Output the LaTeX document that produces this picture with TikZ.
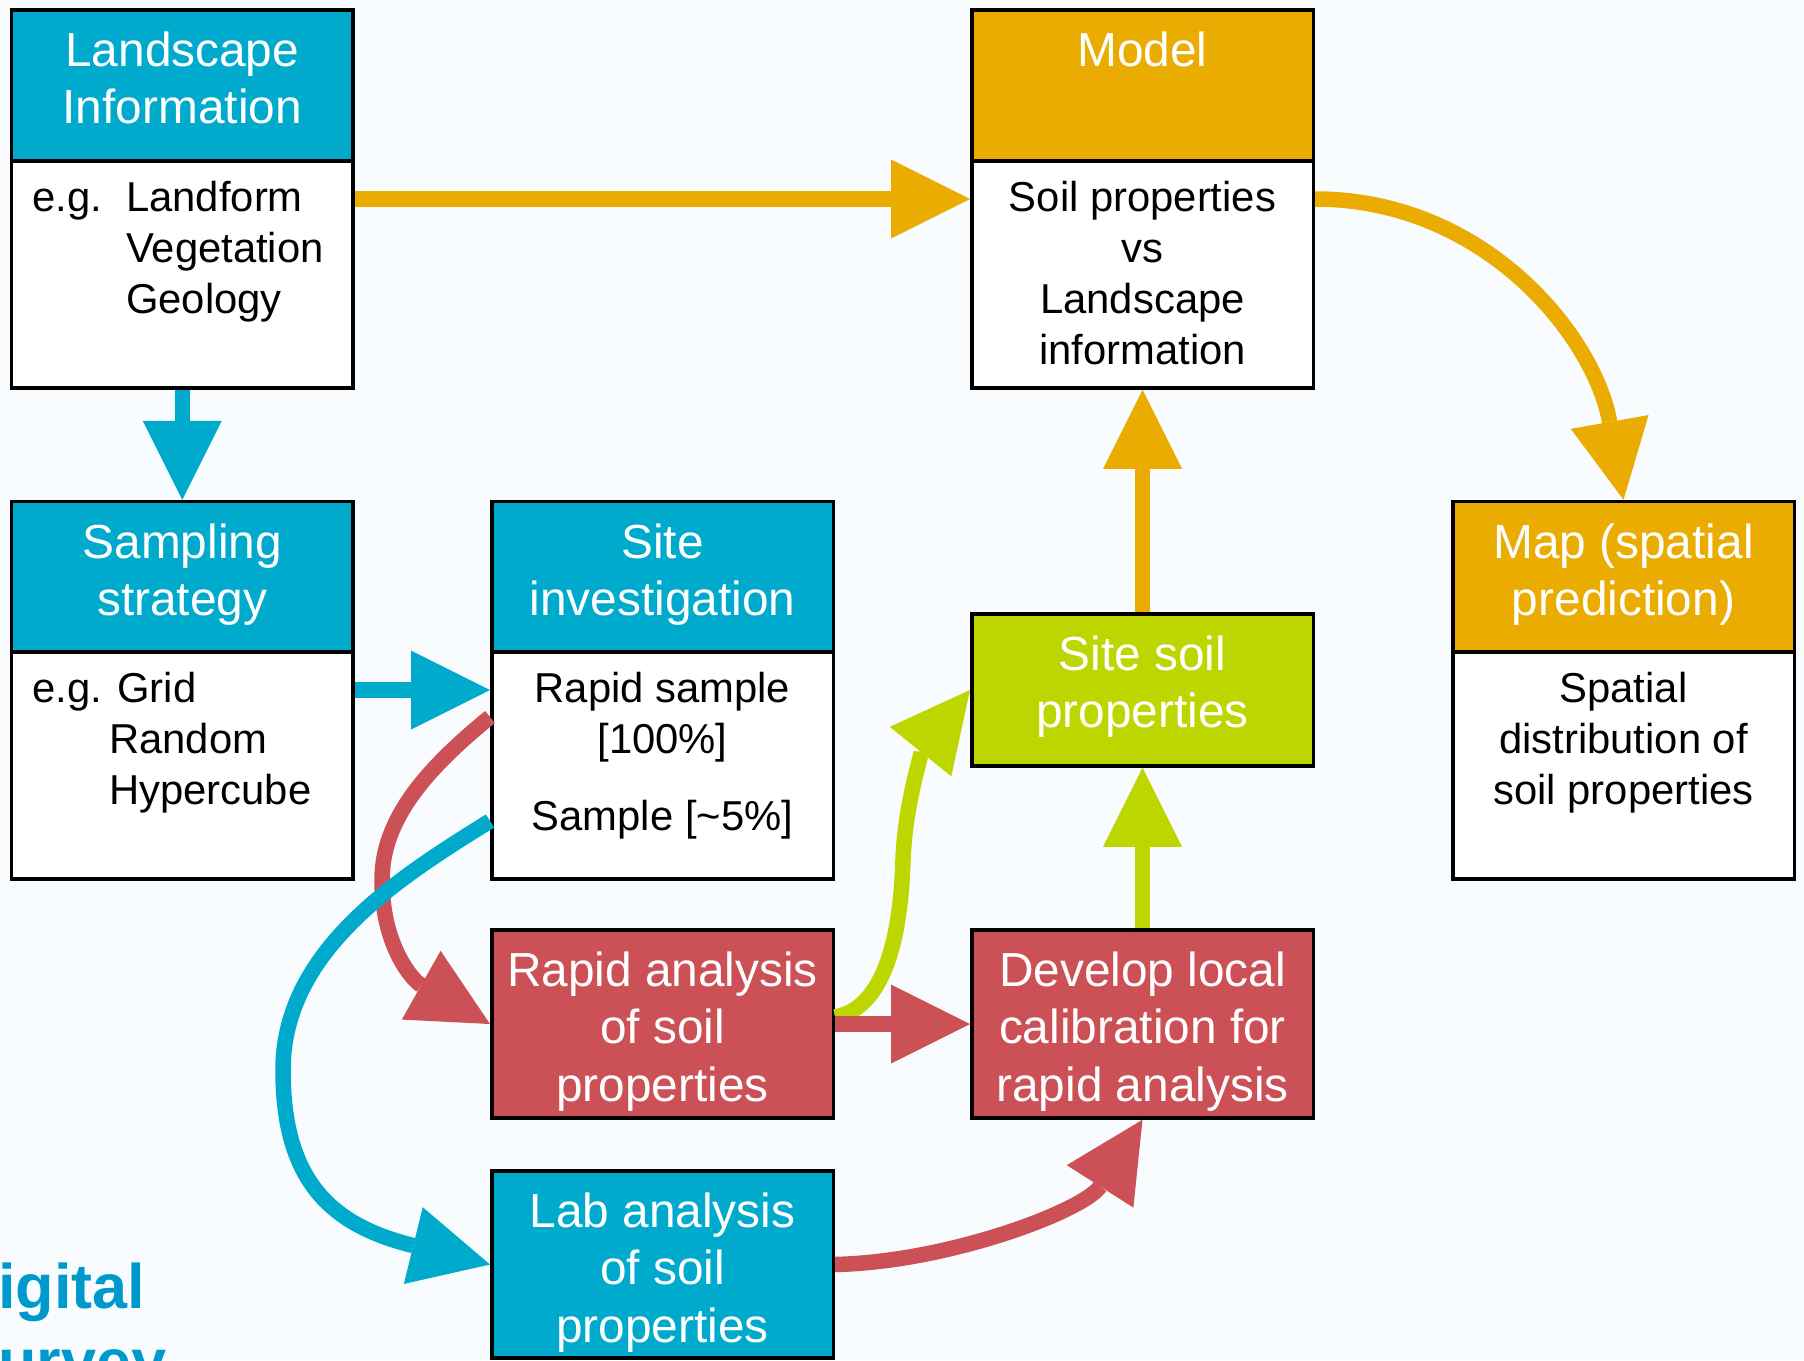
\documentclass[tikz,border=0pt]{standalone}
\usepackage{fontspec}
\setmainfont{Liberation Sans}
\usetikzlibrary{arrows.meta}
\definecolor{cyanc}{RGB}{0,170,205}
\definecolor{orangec}{RGB}{234,172,0}
\definecolor{greenc}{RGB}{190,214,0}
\definecolor{redc}{RGB}{203,81,87}
\definecolor{bluet}{RGB}{0,153,204}
\definecolor{bgc}{RGB}{248,252,254}
\begin{document}
\begin{tikzpicture}[x=1pt,y=-1pt,
  plainbox/.style={draw=black, line width=3.5pt, rectangle, inner sep=0pt, minimum width=341.5pt},
  hdrbox/.style={plainbox, minimum height=151pt},
  bodybox/.style={plainbox, fill=white, minimum height=227pt},
  htxt/.style={anchor=north, inner sep=0pt, align=center, text=white, font=\fontsize{47.8pt}{57.5pt}\selectfont},
  btxt/.style={anchor=north, inner sep=0pt, align=center, text=black, font=\fontsize{41.8pt}{51pt}\selectfont},
  arr/.style={line width=15.5pt, -{Triangle[length=79pt,width=79pt,line width=0pt]}},
]
\useasboundingbox (0,0) rectangle (1804,1360);
\clip (0,0) rectangle (1804,1360);
\fill[bgc] (0,0) rectangle (1804,1360);

% ---- boxes ----
\node[hdrbox, fill=cyanc] (landH) at (182.25,85.5) {};
\node[bodybox] (landB) at (182.25,274.5) {};
\node[hdrbox, fill=orangec] (modelH) at (1142.5,85.5) {};
\node[bodybox] (modelB) at (1142.5,274.5) {};
\node[hdrbox, fill=cyanc] (sampH) at (182.25,577) {};
\node[bodybox] (sampB) at (182.25,765.5) {};
\node[hdrbox, fill=cyanc] (siteH) at (662.5,577) {};
\node[bodybox] (siteB) at (662.5,765.5) {};
\node[hdrbox, fill=orangec] (mapH) at (1623.5,577) {};
\node[bodybox] (mapB) at (1623.5,765.5) {};
\node[plainbox, fill=greenc, minimum height=152pt] (soil) at (1142.5,690) {};
\node[plainbox, fill=redc, minimum height=188pt] (rapid) at (662.5,1024) {};
\node[plainbox, fill=redc, minimum height=188pt] (dev) at (1142.5,1024) {};
\node[plainbox, fill=cyanc, minimum height=187pt] (lab) at (662.5,1264.5) {};

% ---- header texts ----
\node[htxt] (landT) at (182.25,25.75) {\strut Landscape\\Information};
\node[htxt] (modelT) at (1142.5,25.75) {\strut Model};
\node[htxt] (sampT) at (182.25,517.75) {\strut Sampling\\strategy};
\node[htxt] (siteT) at (662.5,517.75) {\strut Site\\investigation};
\node[htxt] (mapT) at (1623.5,517.75) {\strut Map (spatial\\prediction)};
\node[htxt] (soilT) at (1142.5,629.75) {\strut Site soil\\properties};
\node[htxt] (rapidT) at (662.5,945.75) {\strut Rapid analysis\\of soil\\properties};
\node[htxt] (devT) at (1142.5,945.75) {\strut Develop local\\calibration for\\rapid analysis};
\node[htxt] (labT) at (662.5,1186.75) {\strut Lab analysis\\of soil\\properties};

% ---- body texts ----
\node[btxt, anchor=north west, align=left] (landEg) at (32,175.8) {\strut e.g.};
\node[btxt, anchor=north west, align=left] (landL) at (126,175.8) {\strut Landform\\Vegetation\\Geology};
\node[btxt] (modelL) at (1142.5,175.8) {\strut Soil properties\\vs\\Landscape\\information};
\node[btxt, anchor=north west, align=left] (sampEg) at (32,666.8) {\strut e.g. Grid};
\node[btxt, anchor=north west, align=left] (sampL) at (109,717.8) {\strut Random\\Hypercube};
\node[btxt] (siteL) at (662.5,666.8) {\strut Rapid sample\\{}[100\%]\\[26pt]Sample [\textasciitilde5\%]};
\node[btxt] (mapL) at (1623.5,666.8) {\strut Spatial\\distribution of\\soil properties};

% ---- side title ----
\node[anchor=north west, inner sep=0pt, align=left, text=bluet, font=\fontsize{63pt}{75pt}\selectfont\bfseries] (title) at (-2,1255.5) {\strut igital\\urvey};

% ---- arrows ----
\draw[arr, cyanc] (landB.south) -- (sampH.north);
\draw[arr, orangec] ([yshift=75.5pt]landB.east) -- ([yshift=75.5pt]modelB.west);
\draw[arr, orangec] ([yshift=75.5pt]modelB.east) .. controls +(170,0) and +(-29,-163) .. (mapH.north);
\draw[arr, orangec] (soil.north) -- (modelB.south);
\draw[arr, cyanc] ([yshift=75.5pt]sampB.east) -- ([yshift=75.5pt]siteB.west);
\draw[arr, greenc] (dev.north) -- (soil.south);
\draw[arr, greenc] ([yshift=7pt]rapid.east) .. controls (875,1010) and (900,960) .. (903,860) .. controls (905,800) and (925,746) .. (soil.west);
\draw[arr, redc] (rapid.east) -- (dev.west);
\draw[arr, redc] ([yshift=48.5pt]siteB.west) .. controls (425,770) and (382,820) .. (382,880) .. controls (382,945) and (412,980) .. (rapid.west);
\draw[arr, cyanc] ([yshift=-55.5pt]siteB.west) .. controls (400,877) and (283,950) .. (283,1070) .. controls (283,1180) and (330,1225) .. (lab.west);
\draw[arr, redc] (lab.east) .. controls (950,1262) and (1085,1210) .. (dev.south);
\end{tikzpicture}
\end{document}
